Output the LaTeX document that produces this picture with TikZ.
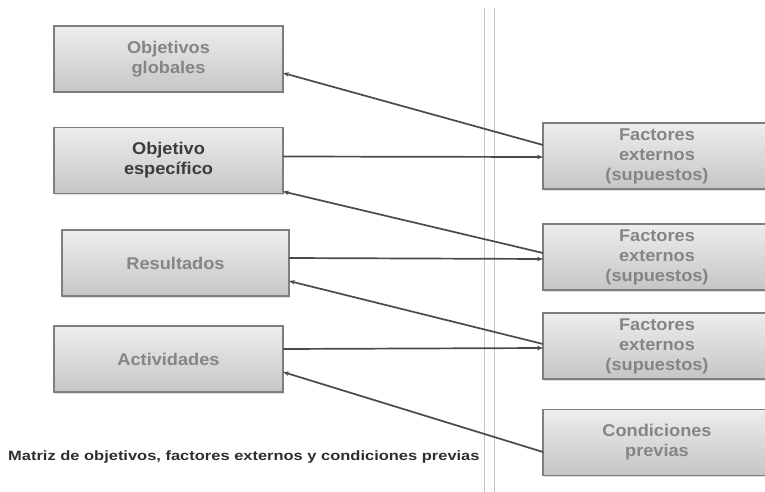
\documentclass[tikz,border=0pt]{standalone}
\usepackage{fontspec}
\setmainfont{Liberation Sans}
\newfontfamily\cajafont[FakeStretch=1.07]{Liberation Sans}
\newfontfamily\piefont[FakeStretch=1.22]{Liberation Sans}
\usetikzlibrary{arrows.meta,shadows}
\definecolor{textogris}{HTML}{858585}
\definecolor{textooscuro}{HTML}{3C3C3C}
\definecolor{bordegris}{HTML}{7E7E7E}
\definecolor{flechagris}{HTML}{4A4A4A}
\definecolor{lineagris}{HTML}{C4C4C4}
\definecolor{piegris}{HTML}{2E2E2E}
\tikzset{
	caja/.style={draw=bordegris, line width=1.3pt, top color=gray!14, bottom color=gray!45,
		minimum width=229pt, minimum height=66pt, inner sep=0pt, outer sep=0pt, align=center,
		font=\cajafont\bfseries\fontsize{17}{20}\selectfont, text=textogris,
		drop shadow={opacity=0.25, shadow xshift=1pt, shadow yshift=-1.5pt}},
	flecha/.style={draw=flechagris, line width=1.7pt, -{Stealth[length=6pt,width=4.5pt]}}
}

\begin{document}
\begin{tikzpicture}[x=1pt, y=-1pt]
			%%%%% START %%%%%
			\useasboundingbox (0, 0) rectangle (765, 492);
			
			\draw[lineagris, line width=0.7pt] (484.5, 8) -- (484.5, 492);
			\draw[lineagris, line width=0.7pt] (494.5, 8) -- (494.5, 492);
			
			\node[caja] (globales) at (168.5, 59) {Objetivos\\globales};
			\node[caja, text=textooscuro] (especifico) at (168.5, 160.5) {Objetivo\\específico};
			\node[caja, minimum width=227pt] (resultados) at (175.5, 263) {Resultados};
			\node[caja] (actividades) at (168.5, 359) {Actividades};
			
			\node[caja, minimum width=228pt] (factores1) at (657, 156) {Factores\\externos\\(supuestos)};
			\node[caja, minimum width=228pt] (factores2) at (657, 257) {Factores\\externos\\(supuestos)};
			\node[caja, minimum width=228pt] (factores3) at (657, 346) {Factores\\externos\\(supuestos)};
			\node[caja, minimum width=228pt] (condiciones) at (657, 442.5) {Condiciones\\previas};
			
			\draw[flecha] ([yshift=11pt]factores1.west) -- ([yshift=-14pt]globales.east);
			\draw[flecha] ([yshift=4pt]especifico.east) -- ([yshift=-1pt]factores1.west);
			\draw[flecha] ([yshift=4pt]factores2.west) -- ([yshift=-31pt]especifico.east);
			\draw[flecha] ([yshift=5pt]resultados.east) -- ([yshift=-2pt]factores2.west);
			\draw[flecha] ([yshift=2pt]factores3.west) -- ([yshift=-18pt]resultados.east);
			\draw[flecha] ([yshift=10pt]actividades.east) -- ([yshift=-2pt]factores3.west);
			\draw[flecha] ([yshift=-9.5pt]condiciones.west) -- ([yshift=-13pt]actividades.east);
			
			\node[anchor=west, inner sep=0pt, text=piegris, font=\piefont\bfseries\fontsize{13.5}{16}\selectfont] (pie) at (8, 457) {Matriz de objetivos, factores externos y condiciones previas};
			%%%%% END %%%%%
\end{tikzpicture}
\end{document}
